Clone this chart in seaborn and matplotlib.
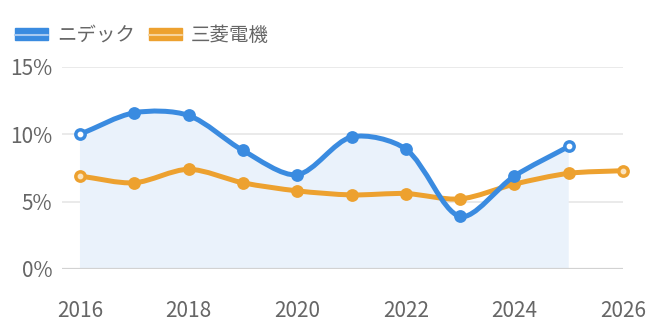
import numpy as np
import matplotlib
matplotlib.use('Agg')
import matplotlib.pyplot as plt
import seaborn as sns
from matplotlib.path import Path
from matplotlib.patches import PathPatch, Patch
from matplotlib.lines import Line2D
from matplotlib.ticker import FuncFormatter

# data (operating margin, %)
years_nidec = [2016, 2017, 2018, 2019, 2020, 2021, 2022, 2023, 2024, 2025]
nidec = [10.0, 11.6, 11.4, 8.8, 7.0, 9.8, 8.9, 3.9, 6.9, 9.1]
years_melco = [2016, 2017, 2018, 2019, 2020, 2021, 2022, 2023, 2024, 2025, 2026]
melco = [6.9, 6.4, 7.4, 6.4, 5.8, 5.5, 5.6, 5.2, 6.3, 7.1, 7.3]
series_names = ['ニデック', '三菱電機']

BLUE = '#3a8be0'
ORANGE = '#eda12f'
FILL = '#eaf2fb'
TEXT = '#666666'

sns.set_theme(style='white')
plt.rcParams['font.family'] = ['Noto Sans CJK JP', 'DejaVu Sans']


def spline_path(ax, xs, ys, tension=0.3, close_to_zero=False):
    # Chart.js style spline through the points, computed in display space
    pts = ax.transData.transform(np.column_stack([xs, ys]))
    n = len(pts)
    cp_prev = pts.copy()
    cp_next = pts.copy()
    for i in range(n):
        prev = pts[i - 1] if i > 0 else pts[i]
        cur = pts[i]
        nxt = pts[i + 1] if i < n - 1 else pts[i]
        d01 = np.hypot(*(cur - prev))
        d12 = np.hypot(*(nxt - cur))
        tot = d01 + d12
        s01 = d01 / tot if tot else 0
        s12 = d12 / tot if tot else 0
        cp_prev[i] = cur - tension * s01 * (nxt - prev)
        cp_next[i] = cur + tension * s12 * (nxt - prev)
    inv = ax.transData.inverted()
    pts_d, cpp, cpn = inv.transform(pts), inv.transform(cp_prev), inv.transform(cp_next)
    verts = [pts_d[0]]
    codes = [Path.MOVETO]
    for i in range(n - 1):
        verts += [cpn[i], cpp[i + 1], pts_d[i + 1]]
        codes += [Path.CURVE4] * 3
    if close_to_zero:
        verts += [(xs[-1], 0), (xs[0], 0), pts_d[0]]
        codes += [Path.LINETO, Path.LINETO, Path.CLOSEPOLY]
    return Path(verts, codes)


fig = plt.figure(figsize=(6.6, 3.3), dpi=100)
ax = fig.add_axes([0.094, 0.185, 0.85, 0.612])
ax.set_xlim(2015.67, 2026)
ax.set_ylim(0, 15)

# fill under Nidec
ax.add_patch(PathPatch(spline_path(ax, years_nidec, nidec, close_to_zero=True),
                       facecolor=FILL, edgecolor='none', zorder=1))

# Mitsubishi Electric line + points
ax.add_patch(PathPatch(spline_path(ax, years_melco, melco), facecolor='none',
                       edgecolor=ORANGE, lw=3.6, zorder=3, clip_on=False,
                       capstyle='round', joinstyle='round'))
sns.scatterplot(x=years_melco, y=melco, ax=ax, color=ORANGE, s=85,
                edgecolor=ORANGE, linewidth=0, zorder=4, clip_on=False)

# Nidec line + points
ax.add_patch(PathPatch(spline_path(ax, years_nidec, nidec), facecolor='none',
                       edgecolor=BLUE, lw=3.6, zorder=5,
                       capstyle='round', joinstyle='round'))
sns.scatterplot(x=years_nidec, y=nidec, ax=ax, color=BLUE, s=85,
                edgecolor=BLUE, linewidth=0, zorder=6, clip_on=False)

# light centres on the end points
ax.scatter([years_nidec[0], years_nidec[-1]], [nidec[0], nidec[-1]],
           s=10, color='white', zorder=7, clip_on=False)
ax.scatter([years_melco[0], years_melco[-1]], [melco[0], melco[-1]],
           s=10, color='#fbe3bd', zorder=7, clip_on=False)

# axes styling
ax.set_xticks(range(2016, 2027, 2))
ax.set_yticks([0, 5, 10, 15])
ax.yaxis.set_major_formatter(FuncFormatter(lambda v, p: f'{v:.0f}%'))
ax.xaxis.set_major_formatter(FuncFormatter(lambda v, p: f'{v:.0f}'))
ax.yaxis.grid(True, color='#e6e6e6', lw=1.2)
ax.xaxis.grid(False)
ax.set_axisbelow(True)
ax.axhline(0, color='#d2d2d2', lw=1.6, zorder=2)
for s in ax.spines.values():
    s.set_visible(False)
ax.tick_params(axis='x', length=0, pad=22, labelsize=15, labelcolor=TEXT)
ax.tick_params(axis='y', length=0, pad=7, labelsize=15, labelcolor=TEXT)
ax.set_xlabel('')
ax.set_ylabel('')

# legend
handles = [
    (Patch(facecolor=BLUE, edgecolor=BLUE), Line2D([], [], color='#a8c9f0', lw=1.5)),
    (Patch(facecolor=ORANGE, edgecolor=ORANGE), Line2D([], [], color='#f7d39c', lw=1.5)),
]
fig.legend(handles, series_names, loc='upper left', bbox_to_anchor=(0.02, 0.93),
           ncol=2, frameon=False, fontsize=14, labelcolor=TEXT,
           handlelength=1.7, handleheight=0.6, handletextpad=0.45,
           columnspacing=0.7, borderaxespad=0, borderpad=0.1)

fig.savefig('out.png', dpi=100)
